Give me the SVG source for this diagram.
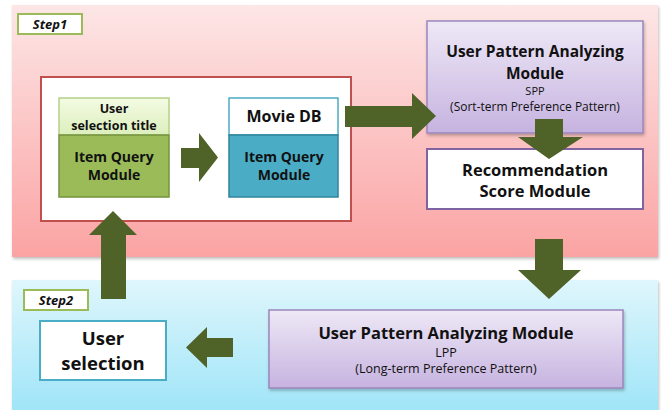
<svg xmlns="http://www.w3.org/2000/svg" width="661" height="410" viewBox="0 0 661 410">
  <defs>
    <linearGradient id="gPink" x1="0" y1="0" x2="0" y2="1">
      <stop offset="0" stop-color="#fde6e6"/>
      <stop offset="1" stop-color="#fba3a3"/>
    </linearGradient>
    <linearGradient id="gBlue" x1="0" y1="0" x2="0" y2="1">
      <stop offset="0" stop-color="#dff6fc"/>
      <stop offset="1" stop-color="#a0e5f8"/>
    </linearGradient>
    <linearGradient id="gPurple" x1="0" y1="0" x2="0" y2="1">
      <stop offset="0" stop-color="#eee8f6"/>
      <stop offset="1" stop-color="#c6b3e0"/>
    </linearGradient>
    <linearGradient id="gLime" x1="0" y1="0" x2="0" y2="1">
      <stop offset="0" stop-color="#f4fbe3"/>
      <stop offset="1" stop-color="#dcefbd"/>
    </linearGradient>
    <filter id="shadow" x="-5%" y="-5%" width="110%" height="115%">
      <feDropShadow dx="1" dy="2" stdDeviation="1.5" flood-color="#000" flood-opacity="0.25"/>
    </filter>
    <style>
      text { font-family: "Open Sans", "Noto Sans", "DejaVu Sans", sans-serif; fill: #111; text-anchor: middle; }
      .b { font-weight: bold; }
      .step { font-style: italic; font-weight: bold; font-size: 13px; }
      .arrow { fill: #4f6228; }
      .purple { fill: url(#gPurple); stroke: #9b86bd; stroke-width: 1.5; }
    </style>
  </defs>

  <!-- background panels -->
  <g id="step1-panel">
    <rect x="12" y="5" width="646" height="252" fill="url(#gPink)" filter="url(#shadow)"/>
    <rect x="18" y="14" width="64" height="20" fill="#fff" stroke="#9bbb59" stroke-width="2"/>
    <text class="step" x="50" y="29">Step1</text>
  </g>
  <g id="step2-panel">
    <rect x="12" y="280" width="646" height="130" fill="url(#gBlue)" filter="url(#shadow)"/>
    <rect x="24" y="290" width="64" height="20" fill="#fff" stroke="#9bbb59" stroke-width="2"/>
    <text class="step" x="56" y="305">Step2</text>
  </g>

  <!-- query container -->
  <g id="query-area">
    <rect x="41" y="77" width="310" height="144" fill="#fff" stroke="#c0504d" stroke-width="2"/>
  </g>

  <g id="item-query">
    <rect x="59" y="98" width="110" height="37" fill="url(#gLime)" stroke="#b5d08a" stroke-width="1.5"/>
    <rect x="59" y="135" width="110" height="62" fill="#9bbb59" stroke="#76923c" stroke-width="1.5"/>
    <text class="b" x="114" y="113" font-size="12.5">User</text>
    <text class="b" x="114" y="130" font-size="12.5">selection title</text>
    <text class="b" x="114" y="162" font-size="14">Item Query</text>
    <text class="b" x="114" y="180" font-size="14">Module</text>
  </g>

  <g id="movie-db">
    <rect x="229" y="98" width="109" height="37" fill="#fff" stroke="#4bacc6" stroke-width="1.5"/>
    <rect x="229" y="135" width="109" height="62" fill="#4bacc6" stroke="#31849b" stroke-width="1.5"/>
    <text class="b" x="284" y="122" font-size="16">Movie DB</text>
    <text class="b" x="284" y="162" font-size="14">Item Query</text>
    <text class="b" x="284" y="180" font-size="14">Module</text>
  </g>

  <g id="spp-module">
    <rect class="purple" x="427" y="21" width="216" height="112" filter="url(#shadow)"/>
    <text class="b" x="535" y="57" font-size="15.5">User Pattern Analyzing</text>
    <text class="b" x="535" y="79" font-size="15.5">Module</text>
    <text x="535" y="95" font-size="11">SPP</text>
    <text x="535" y="111" font-size="12">(Sort-term Preference Pattern)</text>
  </g>

  <g id="recommendation">
    <rect x="427" y="149" width="216" height="60" fill="#fff" stroke="#8064a2" stroke-width="2"/>
    <text class="b" x="535" y="176" font-size="16.5">Recommendation</text>
    <text class="b" x="535" y="197" font-size="16.5">Score Module</text>
  </g>

  <g id="lpp-module">
    <rect class="purple" x="269" y="310" width="354" height="78" filter="url(#shadow)"/>
    <text class="b" x="446" y="339" font-size="16.5">User Pattern Analyzing Module</text>
    <text x="446" y="357" font-size="12.5">LPP</text>
    <text x="446" y="373" font-size="12.5">(Long-term Preference Pattern)</text>
  </g>

  <g id="user-selection">
    <rect x="40" y="321" width="126" height="59" fill="#fff" stroke="#4bacc6" stroke-width="2"/>
    <text class="b" x="103" y="345" font-size="18.5">User</text>
    <text class="b" x="103" y="370" font-size="18.5">selection</text>
  </g>

  <!-- block arrows between modules -->
  <g id="connectors">
    <polygon class="arrow" points="181,148 199,148 199,133 218,157.5 199,182 199,168 181,168"/>
    <polygon class="arrow" points="345,106 412,106 412,93 436,116 412,139 412,127 345,127"/>
    <polygon class="arrow" points="535,119 563,119 563,137 583,137 549,159 518,137 535,137"/>
    <polygon class="arrow" points="535,239 563,239 563,270 581,270 549,299 518,270 535,270"/>
    <polygon class="arrow" points="233,338 207,338 207,327 186,347.5 207,368 207,357 233,357"/>
    <polygon class="arrow" points="101,299 126,299 126,235 137,235 113,211 89,235 101,235"/>
  </g>
</svg>
